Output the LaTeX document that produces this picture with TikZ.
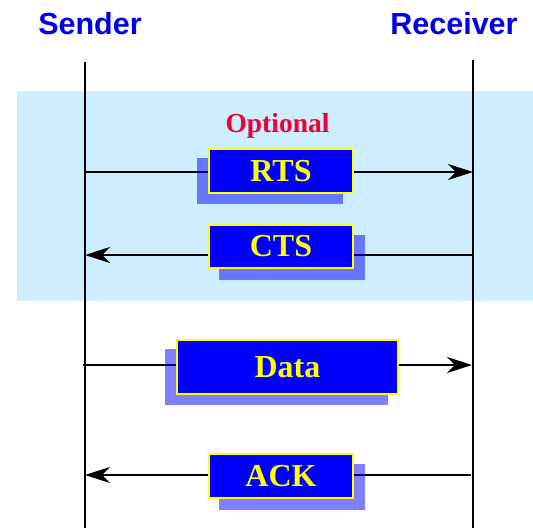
\documentclass[tikz,border=0pt]{standalone}
\usepackage{fontspec}
\setmainfont{Liberation Serif}
\newfontfamily\hfont{Liberation Sans}
\usetikzlibrary{arrows.meta}
\definecolor{bgblue}{HTML}{CCEEFF}
\definecolor{hdblue}{HTML}{0000EE}
\definecolor{optred}{HTML}{EE0033}
\definecolor{boxblue}{HTML}{0000FF}
\definecolor{boxyellow}{HTML}{FFFF00}
\pgfdeclarelayer{bgl}
\pgfdeclarelayer{linel}
\pgfdeclarelayer{shadowl}
\pgfsetlayers{bgl,linel,shadowl,main}
\tikzset{
  header/.style={font=\hfont\bfseries\fontsize{30.5}{31}\selectfont, text=hdblue, anchor=base},
  msgbox/.style={draw=boxyellow, line width=2.4pt, fill=boxblue, text=boxyellow,
    font=\bfseries\fontsize{32}{33}\selectfont, inner sep=0pt, minimum height=44pt},
  shadowfill/.style={fill=boxblue, opacity=0.5},
  lifeline/.style={line width=2.6pt, black},
  msg/.style={line width=2.4pt, black, -{Stealth[length=25pt,width=16pt,inset=8pt]}},
}
\begin{document}
\begin{tikzpicture}[x=1pt,y=-1pt]
\useasboundingbox (0,0) rectangle (533,528);
% headers
\node[header] (sender) at (90,34) {Sender};
\node[header] (receiver) at (454,34) {Receiver};
% optional region
\begin{pgfonlayer}{bgl}
\fill[bgblue] (17,91) rectangle (533,301);
\end{pgfonlayer}
\node[font=\bfseries\fontsize{27.5}{28}\selectfont, text=optred, anchor=base] (opt) at (277.5,132) {Optional};
% lifelines
\coordinate (stop) at (85,62);
\coordinate (sbot) at (85,528);
\coordinate (rtop) at (473,60);
\coordinate (rbot) at (473,528);
\begin{pgfonlayer}{linel}
\draw[lifeline] (stop) -- (sbot);
\draw[lifeline] (rtop) -- (rbot);
\end{pgfonlayer}
% boxes
\node[msgbox, minimum width=144pt] (rts) at (281,171) {RTS};
\node[msgbox, minimum width=144pt, minimum height=43pt] (cts) at (281,246.5) {CTS};
\node[msgbox, minimum width=221pt, minimum height=54pt] (data) at (287.5,367) {Data};
\node[msgbox, minimum width=144pt] (ack) at (281,476) {ACK};
% shadows
\begin{pgfonlayer}{shadowl}
\fill[shadowfill] ([shift={(-11,10)}]rts.north west) rectangle ([shift={(-11,10)}]rts.south east);
\fill[shadowfill] ([shift={(11,11)}]cts.north west) rectangle ([shift={(11,11)}]cts.south east);
\fill[shadowfill] ([shift={(-11,10)}]data.north west) rectangle ([shift={(-11,10)}]data.south east);
\fill[shadowfill] ([shift={(11,11)}]ack.north west) rectangle ([shift={(11,11)}]ack.south east);
\end{pgfonlayer}
% message endpoints
\coordinate (s1) at (85,172);
\coordinate (r1) at (473,172);
\coordinate (s2) at (85,255);
\coordinate (r2) at (473,255);
\coordinate (s3) at (83,365);
\coordinate (r3) at (472,365);
\coordinate (s4) at (85,475);
\coordinate (r4) at (471,475);
\begin{pgfonlayer}{linel}
\draw[msg] (s1) -- (r1);
\draw[msg] (r2) -- (s2);
\draw[msg] (s3) -- (r3);
\draw[msg] (r4) -- (s4);
\end{pgfonlayer}
\end{tikzpicture}
\end{document}
